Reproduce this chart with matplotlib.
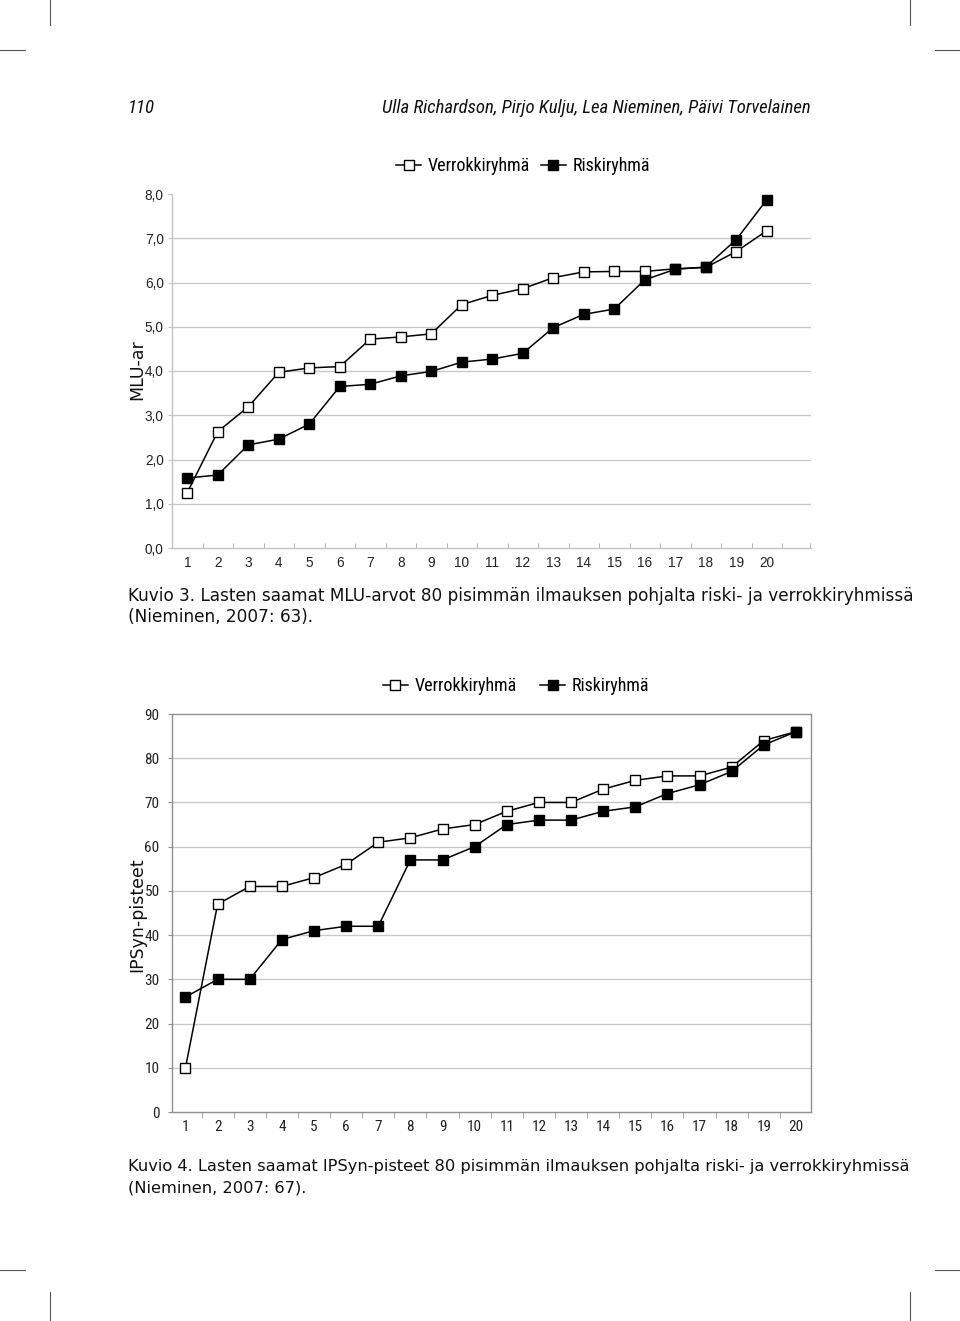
import matplotlib
matplotlib.use("Agg")
import matplotlib.pyplot as plt
from matplotlib.lines import Line2D
import numpy as np

# ---- data ----
positions = list(range(1, 21))
mlu_verrokki = [1.25, 2.63, 3.19, 3.97, 4.07, 4.10, 4.72, 4.77, 4.84, 5.50,
                5.71, 5.86, 6.11, 6.24, 6.25, 6.25, 6.31, 6.34, 6.70, 7.17]
mlu_riski = [1.58, 1.65, 2.33, 2.46, 2.80, 3.65, 3.70, 3.89, 3.99, 4.20,
             4.27, 4.40, 4.98, 5.28, 5.40, 6.06, 6.30, 6.35, 6.97, 7.87]
ipsyn_verrokki = [10, 47, 51, 51, 53, 56, 61, 62, 64, 65,
                  68, 70, 70, 73, 75, 76, 76, 78, 84, 86]
ipsyn_riski = [26, 30, 30, 39, 41, 42, 42, 57, 57, 60,
               65, 66, 66, 68, 69, 72, 74, 77, 83, 86]
mlu_ticks = [0, 1, 2, 3, 4, 5, 6, 7, 8]
mlu_ticklabels = ["0,0", "1,0", "2,0", "3,0", "4,0", "5,0", "6,0", "7,0", "8,0"]
ipsyn_ticks = [0, 10, 20, 30, 40, 50, 60, 70, 80, 90]
series_names = ["Verrokkiryhmä", "Riskiryhmä"]

W, H = 960, 1321
fig = plt.figure(figsize=(W / 100, H / 100), dpi=100)

narrow = ["Roboto Condensed", "Liberation Sans Narrow", "DejaVu Sans Condensed",
          "Liberation Sans"]
regular = ["Liberation Sans", "DejaVu Sans"]
capfont = ["DejaVu Sans"]

def px(x, y):
    return x / W, 1 - y / H

grid_c = "#c8c8c8"

def draw_series(ax, y1, y2):
    ax.plot(positions, y1, color="black", lw=1.1, marker="s", ms=7.5,
            mfc="white", mec="black", mew=1.0, zorder=3)
    ax.plot(positions, y2, color="black", lw=1.1, marker="s", ms=7.5,
            mfc="black", mec="black", mew=1.0, zorder=4)

def legend(fig, x0, y0, colsp):
    h1 = Line2D([], [], color="black", lw=1.1, marker="s", ms=7,
                mfc="white", mec="black")
    h2 = Line2D([], [], color="black", lw=1.1, marker="s", ms=7,
                mfc="black", mec="black")
    fig.legend([h1, h2], series_names, loc="center", bbox_to_anchor=px(x0, y0),
               ncol=2, frameon=False, handlelength=1.4, handletextpad=0.35,
               columnspacing=colsp, prop={"family": narrow, "size": 13})

# ---- top chart ----
top_axis_c = "#c4c4c4"
ax1 = fig.add_axes([172 / W, 1 - 548 / H, 639 / W, 354 / H])
draw_series(ax1, mlu_verrokki, mlu_riski)
ax1.set_xlim(0.5, 21.45)
ax1.set_ylim(0, 8)
ax1.set_yticks(mlu_ticks)
ax1.set_yticklabels(mlu_ticklabels)
for v in mlu_ticks[1:-1]:
    ax1.axhline(v, color=grid_c, lw=1.0, zorder=1)
ax1.set_xticks(positions)
ax1.set_xticklabels([str(p) for p in positions])
ax1.set_xticks(list(np.arange(1.5, 21.0, 1.0)) + [21.42], minor=True)
ax1.tick_params(axis="x", which="major", length=0, pad=6)
ax1.tick_params(axis="x", which="minor", length=3.5, color="#aaaaaa",
                direction="in")
ax1.tick_params(axis="y", length=3, color=top_axis_c, pad=3)
for s in ["top", "right"]:
    ax1.spines[s].set_visible(False)
for s in ["left", "bottom"]:
    ax1.spines[s].set_color(top_axis_c)
    ax1.spines[s].set_linewidth(1.0)
for lab in ax1.get_xticklabels() + ax1.get_yticklabels():
    lab.set_fontfamily(regular)
    lab.set_fontsize(9.8)
    lab.set_color("#222222")
fig.text(*px(137, 370), "MLU-ar", rotation=90, ha="center", va="center",
         fontsize=12.5, family=capfont, color="#111111")
legend(fig, 523, 166, 0.6)

# ---- bottom chart ----
bot_axis_c = "#8f8f8f"
ax2 = fig.add_axes([172 / W, 1 - 1112 / H, 639 / W, 398 / H])
draw_series(ax2, ipsyn_verrokki, ipsyn_riski)
ax2.set_xlim(0.58, 20.47)
ax2.set_ylim(0, 90)
ax2.set_yticks(ipsyn_ticks)
for v in ipsyn_ticks[1:-1]:
    ax2.axhline(v, color=grid_c, lw=1.0, zorder=1)
ax2.set_xticks(positions)
ax2.set_xticklabels([str(p) for p in positions])
ax2.set_xticks(np.arange(1.5, 20.5, 1.0), minor=True)
ax2.tick_params(axis="x", which="major", length=0, pad=6)
ax2.tick_params(axis="x", which="minor", length=4, color="#999999",
                direction="out")
ax2.tick_params(axis="y", length=3, color=bot_axis_c, pad=6)
for s in ax2.spines.values():
    s.set_color(bot_axis_c)
    s.set_linewidth(1.0)
for lab in ax2.get_xticklabels() + ax2.get_yticklabels():
    lab.set_fontfamily(narrow)
    lab.set_fontsize(11)
    lab.set_color("#222222")
fig.text(*px(137, 915), "IPSyn-pisteet", rotation=90, ha="center", va="center",
         fontsize=12.5, family=capfont, color="#111111")
legend(fig, 516, 686, 1.3)

# ---- header ----
fig.text(*px(128, 108), "110", ha="left", va="center", fontsize=13.6,
         style="italic", family=narrow, color="#111111")
fig.text(*px(811, 108), "Ulla Richardson, Pirjo Kulju, Lea Nieminen, Päivi Torvelainen",
         ha="right", va="center", fontsize=13.5, style="italic", family=narrow,
         color="#111111")

# ---- captions ----
fig.text(*px(128, 596), "Kuvio 3. Lasten saamat MLU-arvot 80 pisimmän ilmauksen pohjalta riski- ja verrokkiryhmissä",
         ha="left", va="center", fontsize=12.15, family=capfont, color="#111111")
fig.text(*px(128, 617), "(Nieminen, 2007: 63).", ha="left", va="center",
         fontsize=12.15, family=capfont, color="#111111")
fig.text(*px(128, 1166), "Kuvio 4. Lasten saamat IPSyn-pisteet 80 pisimmän ilmauksen pohjalta riski- ja verrokkiryhmissä",
         ha="left", va="center", fontsize=11.7, family=capfont, color="#111111")
fig.text(*px(128, 1188), "(Nieminen, 2007: 67).", ha="left", va="center",
         fontsize=11.7, family=capfont, color="#111111")

# ---- crop marks ----
mk = dict(color="#555555", lw=0.8, transform=fig.transFigure)
for (x0, y0, x1, y1) in [(50, 0, 50, 25), (910, 0, 910, 25),
                         (0, 50, 25, 50), (935, 50, 960, 50),
                         (0, 1270, 25, 1270), (935, 1270, 960, 1270),
                         (50, 1292, 50, 1321), (910, 1292, 910, 1321)]:
    a, b = px(x0, y0)
    c, d = px(x1, y1)
    fig.add_artist(Line2D([a, c], [b, d], **mk))

fig.savefig("out.png", dpi=100)
